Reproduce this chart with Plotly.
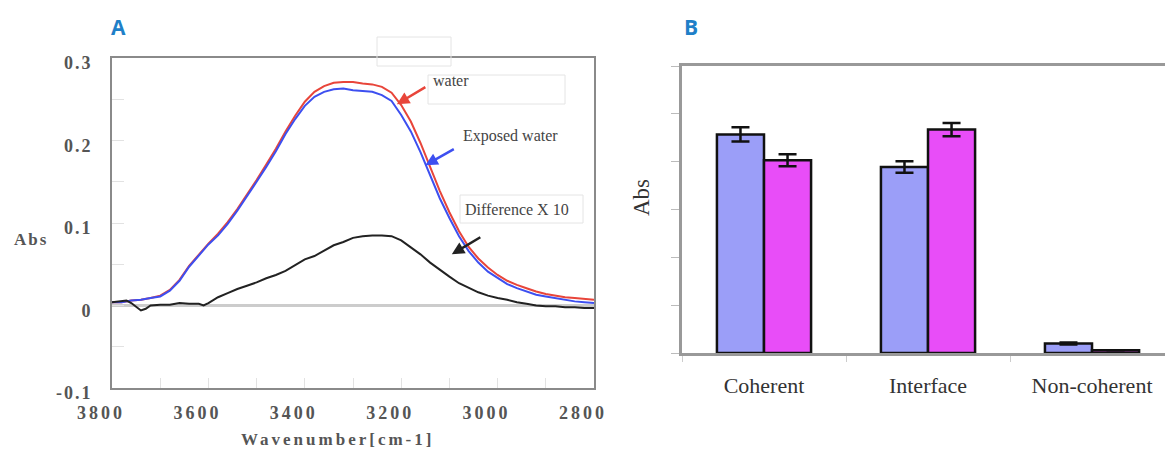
import plotly.graph_objects as go

# ---------------- Panel A data ----------------
wavenumber = [3800, 3780, 3760, 3740, 3720, 3700, 3680, 3660, 3640, 3620, 3600,
              3580, 3560, 3540, 3520, 3500, 3480, 3460, 3440, 3420, 3400,
              3380, 3360, 3340, 3320, 3300, 3280, 3260, 3240, 3220, 3200,
              3180, 3160, 3140, 3120, 3100, 3080, 3060, 3040, 3020, 3000,
              2980, 2960, 2940, 2920, 2900, 2880, 2860, 2840, 2820, 2800]
water = [0.004, 0.004, 0.006, 0.007, 0.009, 0.012, 0.019, 0.031, 0.048, 0.062, 0.075,
         0.087, 0.101, 0.117, 0.134, 0.152, 0.171, 0.190, 0.211, 0.230, 0.247,
         0.259, 0.266, 0.270, 0.271, 0.271, 0.269, 0.268, 0.265, 0.258, 0.243,
         0.223, 0.197, 0.168, 0.139, 0.113, 0.090, 0.071, 0.057, 0.046, 0.037,
         0.030, 0.025, 0.021, 0.017, 0.014, 0.012, 0.010, 0.009, 0.008, 0.007]
exposed_water = [0.004, 0.004, 0.006, 0.007, 0.009, 0.011, 0.018, 0.030, 0.047, 0.061, 0.074,
                 0.085, 0.099, 0.115, 0.132, 0.150, 0.168, 0.187, 0.208, 0.226, 0.242,
                 0.253, 0.259, 0.262, 0.263, 0.261, 0.260, 0.259, 0.255, 0.248, 0.231,
                 0.211, 0.186, 0.158, 0.130, 0.106, 0.084, 0.066, 0.052, 0.041, 0.033,
                 0.026, 0.021, 0.017, 0.013, 0.011, 0.009, 0.007, 0.005, 0.004, 0.003]
diff_wavenumber = [3800, 3780, 3770, 3760, 3750, 3740, 3730, 3720, 3700, 3680, 3660,
                   3640, 3620, 3610, 3600, 3580, 3560, 3540, 3520, 3500, 3480,
                   3460, 3440, 3420, 3400, 3380, 3360, 3340, 3320, 3300, 3280,
                   3260, 3240, 3220, 3200, 3180, 3160, 3140, 3120, 3100, 3080,
                   3060, 3040, 3020, 3000, 2980, 2960, 2940, 2920, 2900, 2880,
                   2860, 2840, 2820, 2800]
difference_x10 = [0.004, 0.005, 0.006, 0.003, -0.002, -0.006, -0.004, 0.000, 0.001, 0.001, 0.003,
                  0.002, 0.002, 0.000, 0.003, 0.010, 0.015, 0.020, 0.024, 0.028, 0.033,
                  0.037, 0.042, 0.049, 0.056, 0.060, 0.066, 0.073, 0.077, 0.082, 0.084,
                  0.085, 0.085, 0.084, 0.079, 0.071, 0.062, 0.052, 0.043, 0.035, 0.027,
                  0.021, 0.016, 0.012, 0.009, 0.007, 0.004, 0.002, 0.000, -0.001, -0.001,
                  -0.002, -0.002, -0.003, -0.003]
a_xticks = [3800, 3600, 3400, 3200, 3000, 2800]
a_yticks = [-0.1, 0, 0.1, 0.2, 0.3]
a_ytick_labels = ["-0.1", "0", "0.1", "0.2", "0.3"]

# ---------------- Panel B data ----------------
categories = ["Coherent", "Interface", "Non-coherent"]
series1 = [4.57, 3.89, 0.20]
series1_err = [0.15, 0.12, 0.02]
series2 = [4.03, 4.67, 0.06]
series2_err = [0.125, 0.14, 0.0]


def spaced(s, ls=3):
    return '<span style="letter-spacing:%dpx">%s</span>' % (ls, s)

SERIF = "Liberation Serif"
W, H = 1165, 450
def px(x):
    return x / W
def py(y):
    return 1 - y / H

fig = go.Figure()

fig.add_trace(go.Scatter(x=wavenumber, y=water, mode="lines",
                         line=dict(color="#e8453a", width=2), xaxis="x", yaxis="y",
                         showlegend=False))
fig.add_trace(go.Scatter(x=wavenumber, y=exposed_water, mode="lines",
                         line=dict(color="#3d4ff0", width=2), xaxis="x", yaxis="y",
                         showlegend=False))
fig.add_trace(go.Scatter(x=diff_wavenumber, y=difference_x10, mode="lines",
                         line=dict(color="#222222", width=2), xaxis="x", yaxis="y",
                         showlegend=False))

fig.add_trace(go.Bar(x=categories, y=series1, xaxis="x2", yaxis="y2",
                     marker=dict(color="#9b9ef8", line=dict(color="#111111", width=2.5)),
                     error_y=dict(type="data", array=series1_err, color="#111111",
                                  thickness=2.5, width=9),
                     showlegend=False))
fig.add_trace(go.Bar(x=categories, y=series2, xaxis="x2", yaxis="y2",
                     marker=dict(color="#e84df8", line=dict(color="#111111", width=2.5)),
                     error_y=dict(type="data", array=series2_err, color="#111111",
                                  thickness=2.5, width=9),
                     showlegend=False))

fig.update_layout(
    width=W, height=H,
    margin=dict(l=0, r=0, t=0, b=0, autoexpand=False),
    paper_bgcolor="white", plot_bgcolor="white",
    barmode="group", bargap=0.426, bargroupgap=0,
    xaxis=dict(domain=[px(112), px(594)], range=[3800, 2800], automargin=False,
               tickvals=a_xticks, ticktext=[spaced(str(v), 3) for v in a_xticks],
               ticks="inside", ticklen=10, tickcolor="#e2e2e2", tickwidth=1,
               minor=dict(dtick=100, tick0=2800, ticks="inside", ticklen=10,
                          tickcolor="#e2e2e2", tickwidth=1),
               showline=True, linecolor="#8a8a8a", linewidth=2, mirror=True,
               showgrid=False, zeroline=False, ticklabelstandoff=7, ticklabelshift=11,
               tickfont=dict(family=SERIF, size=18, color="#555555", weight="bold")),
    yaxis=dict(domain=[py(388), py(58)], range=[-0.1, 0.3], automargin=False,
               tickvals=a_yticks, ticktext=[spaced(s, 2) for s in a_ytick_labels],
               ticks="inside", ticklen=12, tickcolor="#e2e2e2", tickwidth=1,
               minor=dict(dtick=0.05, tick0=0, ticks="inside", ticklen=12,
                          tickcolor="#e2e2e2", tickwidth=1),
               showline=True, linecolor="#8a8a8a", linewidth=2, mirror=True,
               showgrid=False, zeroline=True, zerolinecolor="#cccccc", zerolinewidth=2.5,
               ticklabelstandoff=14, ticklabelshift=5,
               tickfont=dict(family=SERIF, size=18, color="#555555", weight="bold")),
    xaxis2=dict(domain=[px(682), 1.0], range=[-0.5, 2.445], anchor="y2", automargin=False,
                tickson="boundaries", ticks="outside", ticklen=6, tickcolor="#cccccc",
                showline=True, linecolor="#999999", linewidth=3, mirror=True,
                showgrid=False, zeroline=False, ticklabelstandoff=11,
                tickfont=dict(family=SERIF, size=22, color="#333333")),
    yaxis2=dict(domain=[py(353), py(66)], range=[0, 6], anchor="x2", dtick=1, automargin=False,
                ticks="outside", ticklen=8, tickcolor="#bbbbbb", showticklabels=False,
                showline=True, linecolor="#999999", linewidth=3, mirror=False,
                showgrid=False, zeroline=False),
)

def note(text, x, y, size, color, family=SERIF, xanchor="center", angle=0):
    return dict(text=text, x=px(x), y=py(y), xref="paper", yref="paper",
                xanchor=xanchor, yanchor="middle", textangle=angle, showarrow=False,
                font=dict(family=family, size=size, color=color))

annotations = [
    note("<b>A</b>", 118, 27, 21, "#1f80c8", family="Open Sans"),
    note("<b>B</b>", 691, 27, 21, "#1f80c8", family="Open Sans"),
    note("<b>" + spaced("Abs", 2) + "</b>", 31, 239, 17, "#555555"),
    note("<b>" + spaced("Wavenumber[cm-1]", 3) + "</b>", 337, 439, 17, "#555555"),
    note("Abs", 641, 197, 23, "#333333", angle=-90),
    note("water", 431, 81, 16, "#444444", xanchor="left"),
    note("Exposed water", 461, 136, 16, "#444444", xanchor="left"),
    note("Difference X 10", 463, 209, 16, "#444444", xanchor="left"),
    # arrows
    dict(x=3209, y=0.244, xref="x", yref="y", ax=30, ay=-18, text="", showarrow=True,
         arrowhead=2, arrowsize=1, arrowwidth=2.5, arrowcolor="#e8453a"),
    dict(x=3150, y=0.170, xref="x", yref="y", ax=30, ay=-17, text="", showarrow=True,
         arrowhead=2, arrowsize=1, arrowwidth=2.5, arrowcolor="#3d4ff0"),
    dict(x=3095, y=0.062, xref="x", yref="y", ax=30, ay=-18, text="", showarrow=True,
         arrowhead=2, arrowsize=1, arrowwidth=2.5, arrowcolor="#222222"),
]
fig.update_layout(annotations=annotations)

boxes = [(377, 37, 451, 66), (428, 75, 565, 104), (460, 195, 583, 223)]
fig.update_layout(shapes=[
    dict(type="rect", xref="paper", yref="paper", x0=px(a), x1=px(c), y0=py(d), y1=py(b),
         line=dict(color="#e4e4e4", width=1), fillcolor="rgba(0,0,0,0)")
    for a, b, c, d in boxes
])

fig.write_html("out.html")
